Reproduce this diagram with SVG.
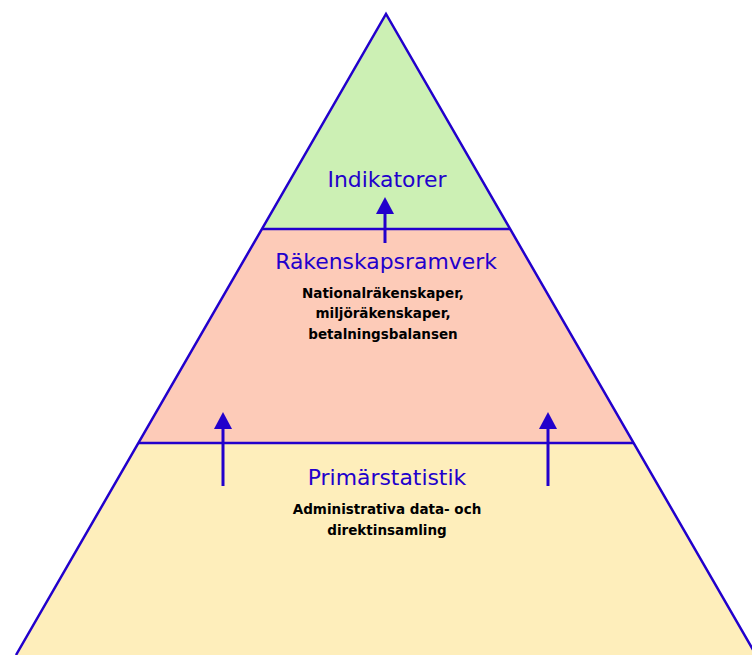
<svg xmlns="http://www.w3.org/2000/svg" width="752" height="655" viewBox="0 0 752 655">
  <style>
    .edge { stroke: #2200cc; stroke-width: 2.5; fill: none; }
    .title { font-family: "DejaVu Sans", sans-serif; font-size: 21.9px; fill: #2200cc; text-anchor: middle; }
    .sub { font-family: "DejaVu Sans", sans-serif; font-size: 13.5px; font-weight: bold; fill: #000; text-anchor: middle; }
    .shaft { stroke: #2200cc; stroke-width: 3; }
  </style>
  <rect width="752" height="655" fill="#fff"/>

  <!-- bottom tier -->
  <g id="primarstatistik">
    <polygon points="138,443 634,443 756,655 16,655" fill="#feeebb"/>
    <text class="title" x="387" y="485">Primärstatistik</text>
    <text class="sub" x="387" y="514">Administrativa data- och</text>
    <text class="sub" x="387" y="535">direktinsamling</text>
  </g>

  <!-- middle tier -->
  <g id="rakenskapsramverk">
    <polygon points="262,229 510,229 634,443 138,443" fill="#fdcbb8"/>
    <text class="title" x="386" y="269">Räkenskapsramverk</text>
    <text class="sub" x="383" y="298">Nationalräkenskaper,</text>
    <text class="sub" x="383" y="318">miljöräkenskaper,</text>
    <text class="sub" x="383" y="339">betalningsbalansen</text>
  </g>

  <!-- top tier -->
  <g id="indikatorer">
    <polygon points="386,14 510,229 262,229" fill="#ccf0b4"/>
    <text class="title" x="387" y="187">Indikatorer</text>
  </g>

  <!-- outline and tier borders -->
  <g id="outline">
    <polyline class="edge" points="16,655 386,14 756,655"/>
    <line class="edge" x1="262" y1="229" x2="510" y2="229"/>
    <line class="edge" x1="138" y1="443" x2="634" y2="443"/>
  </g>

  <!-- upward arrows between tiers -->
  <g id="connectors" fill="#2200cc">
    <line class="shaft" x1="223" y1="486" x2="223" y2="426"/>
    <polygon points="223,412 214,429 232,429"/>
    <line class="shaft" x1="548" y1="486" x2="548" y2="426"/>
    <polygon points="548,412 539,429 557,429"/>
    <line class="shaft" x1="385" y1="243" x2="385" y2="211"/>
    <polygon points="385,197 376,214 394,214"/>
  </g>
</svg>
